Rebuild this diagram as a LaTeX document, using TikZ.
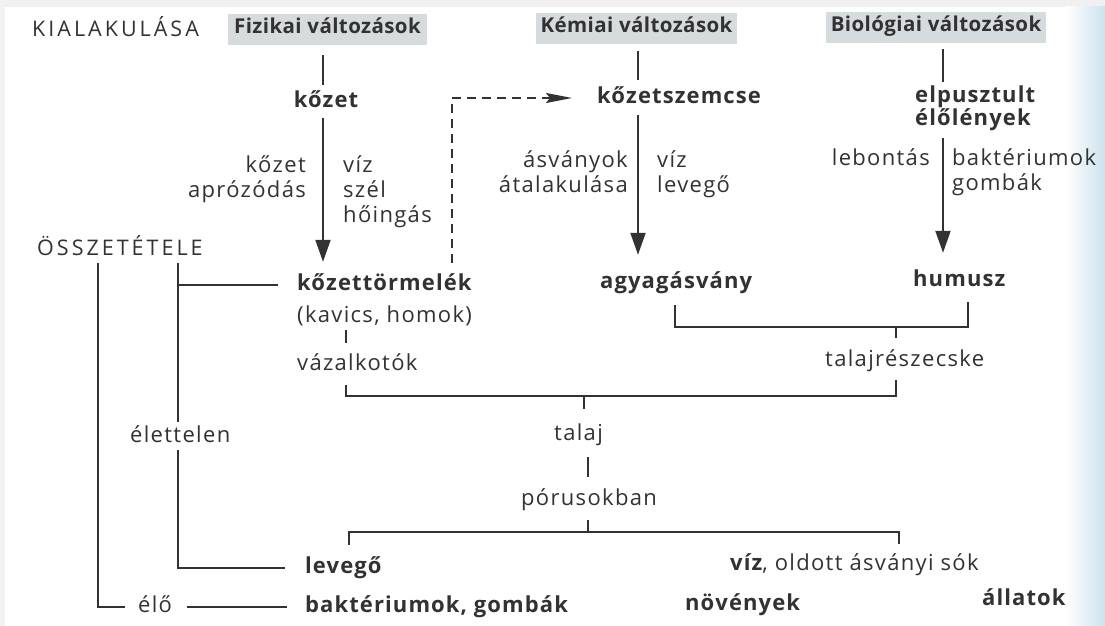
\documentclass[tikz,border=0pt]{standalone}
\usepackage{fontspec}
\setmainfont{Open Sans}[LetterSpace=6]
\newfontfamily\boldwide{Open Sans}[LetterSpace=5]
\newfontfamily\hdrfont{Open Sans}[LetterSpace=2]
\newfontfamily\capsfont{Open Sans}[LetterSpace=14]
\usetikzlibrary{arrows.meta,calc}
\definecolor{ink}{RGB}{50,50,50}
\definecolor{boxgray}{RGB}{214,219,222}
\definecolor{tint}{RGB}{205,226,238}
\begin{document}
\begin{tikzpicture}[x=1pt,y=-1pt,
  txt/.style={inner sep=0pt, text height=14pt, text depth=4pt, text=ink, font=\fontsize{22}{26}\selectfont},
  bt/.style={txt, font=\fontsize{22}{26}\selectfont\boldwide\bfseries},
  capt/.style={txt, font=\fontsize{21.5}{24}\selectfont\capsfont},
  hdr/.style={fill=boxgray, text=ink, font=\fontsize{20.5}{24}\selectfont\hdrfont\bfseries, inner xsep=5pt, inner ysep=0pt, text height=20pt, text depth=11pt},
  ln/.style={draw=ink, line width=1.6pt},
  arr/.style={ln, line width=2pt, -{Triangle[length=22pt,width=15pt]}},
  dsh/.style={ln, dash pattern=on 9pt off 6pt, -{Stealth[length=26pt,width=10pt,inset=4pt]}}]
\useasboundingbox (0,0) rectangle (1105,626);
\fill[white] (0,0) rectangle (1105,626);
\fill[gray!12] (0,0) rectangle (1105,7);
\fill[gray!10] (0,0) rectangle (5,626);
\shade[left color=white, right color=tint] (1065,7) rectangle (1105,626);
% headings
\node[capt, anchor=base west] (kial) at (32,37) {KIALAKULÁSA};
\node[hdr, anchor=base, minimum width=199pt] (fiz) at (327.5,34) {Fizikai változások};
\node[hdr, anchor=base, minimum width=201pt] (kem) at (636.5,33) {Kémiai változások};
\node[hdr, anchor=base, minimum width=205pt] (bio) at (936,32) {Biológiai változások};
% column 1
\node[bt, anchor=base] (kozet) at (326,107) {kőzet};
\node[txt, anchor=base east] (a1) at (306,172) {kőzet};
\node[txt, anchor=base east] (a2) at (306,197) {aprózódás};
\node[txt, anchor=base west] (a3) at (343,172) {víz};
\node[txt, anchor=base west] (a4) at (343,197) {szél};
\node[txt, anchor=base west] (a5) at (343,222) {hőingás};
% column 2
\node[bt, anchor=base west] (kszem) at (597,103) {kőzetszemcse};
\node[txt, anchor=base east] (b1) at (628,167) {ásványok};
\node[txt, anchor=base east] (b2) at (628,192) {átalakulása};
\node[txt, anchor=base west] (b3) at (657,167) {víz};
\node[txt, anchor=base west] (b4) at (657,192) {levegő};
% column 3
\node[bt, anchor=base west] (elp) at (915,102) {elpusztult};
\node[bt, anchor=base west] (elo2) at (915,125) {élőlények};
\node[txt, anchor=base east] (c1) at (930,165) {lebontás};
\node[txt, anchor=base west] (c2) at (952,165) {baktériumok};
\node[txt, anchor=base west] (c3) at (952,190) {gombák};
% composition
\node[capt, anchor=base west] (ossz) at (37,255) {ÖSSZETÉTELE};
\node[bt, anchor=base west] (kt) at (297,290) {kőzettörmelék};
\node[txt, anchor=base west] (kav) at (297,322) {(kavics, homok)};
\node[txt, anchor=base west] (vaz) at (297,370) {vázalkotók};
\node[bt, anchor=base west] (agy) at (600,288) {agyagásvány};
\node[bt, anchor=base west] (hum) at (913,286) {humusz};
\node[txt, anchor=base west] (tr) at (825,366) {talajrészecske};
\node[txt, anchor=base west] (talaj) at (554,440) {talaj};
\node[txt, anchor=base west] (por) at (521,505) {pórusokban};
\node[txt, anchor=base west] (elet) at (130,442) {élettelen};
\node[bt, anchor=base west] (lev) at (305,573) {levegő};
\node[txt, anchor=base west] (viz) at (730,570) {{\boldwide\bfseries víz}, oldott ásványi sók};
\node[txt, anchor=base west] (elo) at (138,612) {élő};
\node[bt, anchor=base west] (bak) at (305,612) {baktériumok, gombák};
\node[bt, anchor=base west] (nov) at (685,610) {növények};
\node[bt, anchor=base west] (all) at (982,605) {állatok};
% column x and bracket y coordinates
\coordinate (xF) at (323,0);
\coordinate (xK) at (638,0);
\coordinate (xB) at (943,0);
\coordinate (xD) at (452,0);
\coordinate (xO) at (98,0);
\coordinate (xI) at (178,0);
\coordinate (xV) at (346,0);
\coordinate (xS) at (584,0);
\coordinate (xA) at (675,0);
\coordinate (xH) at (968,0);
\coordinate (xT) at (896,0);
\coordinate (xP) at (588,0);
\coordinate (xL) at (349,0);
\coordinate (xW) at (899,0);
\coordinate (y1) at (0,396);
\coordinate (y2) at (0,327);
\coordinate (y3) at (0,532);
% connectors
\draw[ln, shorten <=10pt, shorten >=8pt] (fiz.south -| xF) -- (kozet.north -| xF);
\draw[arr, shorten <=7pt, shorten >=14pt] (kozet.south -| xF) -- (kt.north -| xF);
\draw[dsh, shorten <=13pt, shorten >=25pt] (kt.north -| xD) |- (kszem.west);
\draw[ln, shorten <=7pt, shorten >=9pt] (kem.south -| xK) -- (kszem.north -| xK);
\draw[arr, shorten <=8pt, shorten >=19pt] (kszem.south -| xK) -- (agy.north -| xK);
\draw[ln, shorten <=6pt, shorten >=6pt] (bio.south -| xB) -- (elp.north -| xB);
\draw[arr, shorten <=9pt, shorten >=19pt] (elo2.south -| xB) -- (hum.north -| xB);
\draw[ln, shorten <=4pt, shorten >=13pt] (ossz.south -| xO) |- (elo.west);
\draw[ln, shorten <=15pt, shorten >=18pt] (elo.east) -- (bak.west);
\draw[ln, shorten <=4pt, shorten >=6pt] (ossz.south -| xI) -- (elet.north -| xI);
\draw[ln, shorten >=19pt] (kt.west -| xI) -- (kt.west);
\draw[ln, shorten <=4pt, shorten >=20pt] (elet.south -| xI) |- (lev.west);
\draw[ln, shorten <=4pt, shorten >=13pt] (kav.south -| xV) -- (vaz.north -| xV);
\draw[ln, shorten <=11pt, shorten >=10pt] (vaz.south -| xV) -- (y1 -| xV) -- (y1 -| xT) -- (tr.south -| xT);
\draw[ln, shorten >=17pt] (y1 -| xS) -- (talaj.north -| xS);
\draw[ln, shorten <=13pt, shorten >=12pt] (agy.south -| xA) -- (y2 -| xA) -- (y2 -| xH) -- (hum.south -| xH);
\draw[ln, shorten >=14pt] (y2 -| xT) -- (tr.north -| xT);
\draw[ln, shorten <=13pt, shorten >=14pt] (talaj.south -| xP) -- (por.north -| xP);
\draw[ln, shorten <=11pt] (por.south -| xP) -- (y3 -| xP);
\draw[ln, shorten <=14pt, shorten >=12pt] (lev.north -| xL) -- (y3 -| xL) -- (y3 -| xW) -- (viz.north -| xW);
\end{tikzpicture}
\end{document}
